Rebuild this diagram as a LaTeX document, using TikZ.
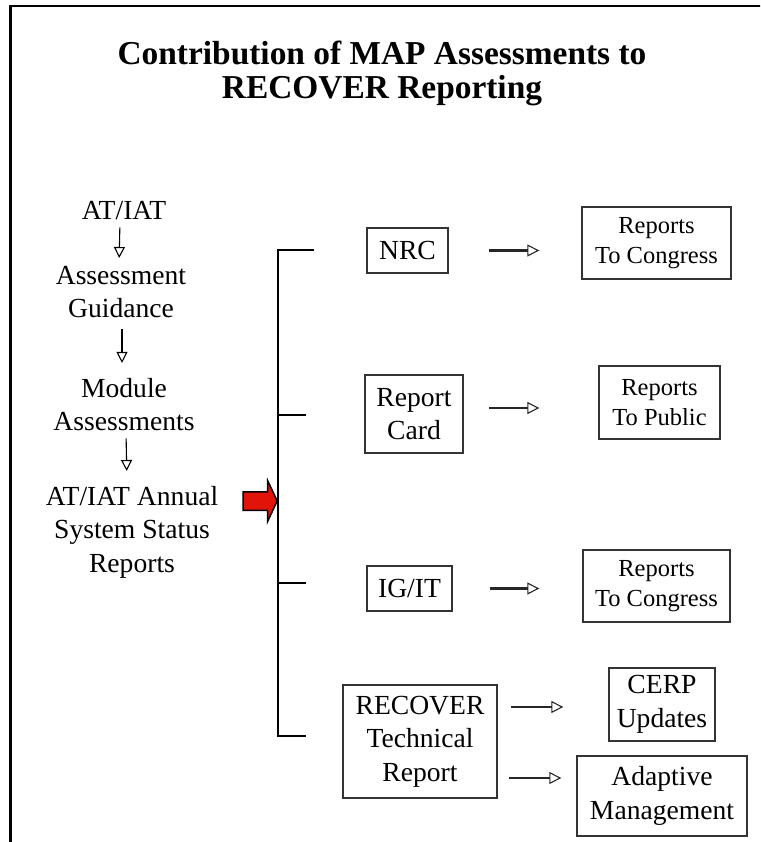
\documentclass[tikz,border=0pt]{standalone}
\usepackage{fontspec}
\setmainfont{Liberation Serif}
\usetikzlibrary{shapes.arrows, arrows.meta, positioning, calc}
\definecolor{arrred}{RGB}{225,20,10}
\newcommand{\titlefont}{\fontsize{33.4}{34}\selectfont\bfseries}
\newcommand{\bodyfont}{\fontsize{27.6}{33.5}\selectfont}
\newcommand{\smallbody}{\fontsize{24.5}{30}\selectfont}
\tikzset{
  % --- Colonne gauche ---------------------------------------
  txt/.style={align=center, inner sep=0pt, font=\bodyfont},
  vfl/.style={-{Triangle[open, length=11pt, width=11pt]}, line width=1.1pt},
  % --- Boites -----------------------------------------------
  mbox/.style={draw=black!80, line width=1.3pt, align=center,
    font=\bodyfont, inner sep=0pt},
  rbox/.style={mbox, font=\smallbody},
  hfl/.style={-{Triangle[open, length=12pt, width=12pt, line width=1.1pt]},
    line width=2.3pt, black!85},
  % --- Accolade / cadre -------------------------------------
  brk/.style={line width=2.5pt},
  feed/.style={single arrow, draw, fill=arrred, line width=1.5pt,
    inner xsep=0pt, inner ysep=8.5pt, minimum height=34pt,
    single arrow head extend=11pt, single arrow tip angle=130},
  frame/.style={line width=2.8pt}
}
\begin{document}
\begin{tikzpicture}[x=1pt, y=-1pt]
  \clip (0,0) rectangle (760,842);

  % --- Cadre et titre ---------------------------------------
  \draw[frame] (10.5,900) |- (800,6);
  \node[font=\titlefont, align=center] (title) at (382,73)
    {Contribution of MAP Assessments to\\RECOVER Reporting};

  % --- Colonne gauche ---------------------------------------
  \node[txt] (atiat) at (124,210.9) {AT/IAT};
  \node[txt] (guid) at (121,292.2) {Assessment\\Guidance};
  \node[txt] (mod) at (124,404.6) {Module\\Assessments};
  \node[txt] (ann) at (132,532.2) {AT/IAT Annual\\System Status\\Reports};

  \draw[vfl, shorten <=7pt, shorten >=8pt]
    ([xshift=-4pt]atiat.south) -- ([xshift=-2pt]guid.north);
  \draw[vfl, shorten <=11pt, shorten >=15pt]
    ([xshift=1pt]guid.south) -- ([xshift=-2pt]mod.north);
  \draw[vfl, shorten <=7pt, shorten >=15pt]
    ([xshift=2pt]mod.south) -- ([xshift=-5pt]ann.north);

  % --- Accolade ---------------------------------------------
  \coordinate (brtop) at (278,250);
  \coordinate (brbot) at (278,736);
  \draw[brk] ([xshift=36pt]brtop) -- (brtop) -- (brbot) -- ([xshift=28pt]brbot);
  \foreach \yy in {415,583}
    \draw[brk] (278,\yy) -- ++(28,0);
  \node[feed, anchor=tip] (feedarr) at (278,501) {};

  % --- Colonne du milieu ------------------------------------
  \node[mbox, minimum width=81pt, minimum height=45pt] (nrc) at (407.5,250.5) {NRC};
  \node[mbox, minimum width=98pt, minimum height=78pt] (card) at (414,414) {Report\\Card};
  \node[mbox, minimum width=85pt, minimum height=45pt] (igit) at (409.5,588.5) {IG/IT};
  \node[mbox, minimum width=154pt, minimum height=113pt] (rtr) at (420,741.5)
    {RECOVER\\Technical\\Report};

  % --- Colonne droite ---------------------------------------
  \node[rbox, minimum width=149pt, minimum height=72pt] (rcong) at (656.5,243)
    {Reports\\To Congress};
  \node[rbox, minimum width=121pt, minimum height=73pt] (rpub) at (659.5,402.5)
    {Reports\\To Public};
  \node[rbox, minimum width=147pt, minimum height=72pt] (rcongb) at (656.5,586)
    {Reports\\To Congress};
  \node[mbox, minimum width=106pt, minimum height=73pt] (cerp) at (662,704.5)
    {CERP\\Updates};
  \node[mbox, minimum width=170pt, minimum height=80pt] (adapt) at (662,796)
    {Adaptive\\Management};

  % --- Fleches ----------------------------------------------
  \draw[hfl, shorten <=40pt, shorten >=42pt] (nrc.east) -- (nrc.east -| rcong.west);
  \draw[hfl, shorten <=25pt, shorten >=59pt]
    ([yshift=6pt]card.east) -- ([yshift=6pt]card.east -| rpub.west);
  \draw[hfl, shorten <=37pt, shorten >=43pt] (igit.east) -- (igit.east -| rcongb.west);
  \draw[hfl, shorten <=13pt, shorten >=45pt]
    ([yshift=34.5pt]rtr.east) -- ([yshift=34.5pt]rtr.east -| cerp.west);
  \draw[hfl, shorten <=11pt, shorten >=15pt]
    ([yshift=-36.5pt]rtr.east) -- ([yshift=-36.5pt]rtr.east -| adapt.west);

\end{tikzpicture}
\end{document}
